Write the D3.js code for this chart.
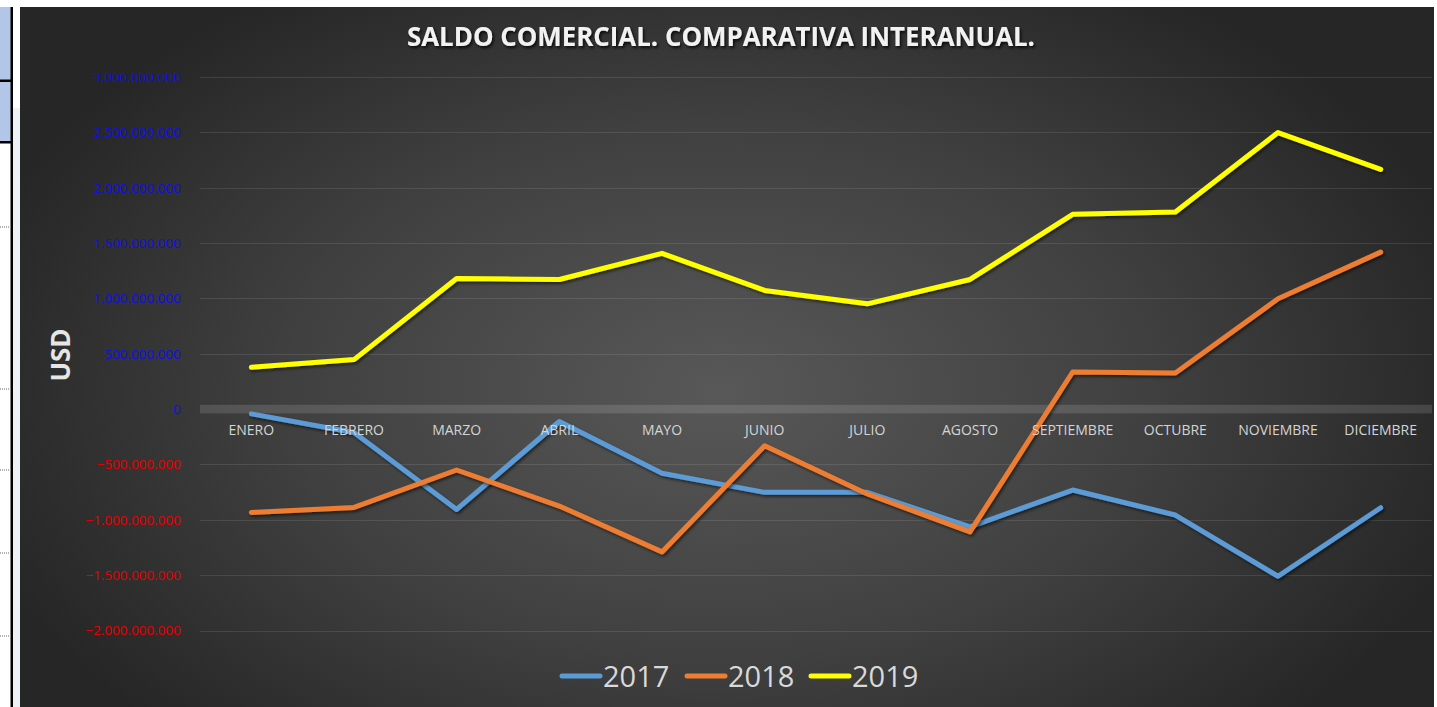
<!DOCTYPE html>
<html><head><meta charset="utf-8">
<script src="https://cdn.jsdelivr.net/npm/d3@7"></script>
<style>
html,body{margin:0;padding:0;background:#fff;}
svg{display:block;}
</style></head>
<body>
<svg id="chart" width="1437" height="707"></svg>
<script>
const months = ["ENERO","FEBRERO","MARZO","ABRIL","MAYO","JUNIO","JULIO","AGOSTO","SEPTIEMBRE","OCTUBRE","NOVIEMBRE","DICIEMBRE"];
const years = ["2017","2018","2019"];
const s2017 = [-43e6,-212e6,-906e6,-112e6,-580e6,-752e6,-752e6,-1063e6,-731e6,-957e6,-1510e6,-891e6];
const s2018 = [-933e6,-888e6,-550e6,-876e6,-1290e6,-332e6,-767e6,-1109e6,335e6,326e6,996e6,1418e6];
const s2019 = [377e6,447e6,1180e6,1171e6,1407e6,1072e6,951e6,1171e6,1760e6,1781e6,2498e6,2165e6];
const yTicks = [3e9,2.5e9,2e9,1.5e9,1e9,5e8,0,-5e8,-1e9,-1.5e9,-2e9];
const colors = ["#5b9bd5","#ed7d31","#ffff00"];
const seriesList = [s2017,s2018,s2019];

const svg = d3.select("#chart");
const defs = svg.append("defs");
const rg = defs.append("radialGradient").attr("id","bg")
  .attr("gradientUnits","userSpaceOnUse")
  .attr("cx",720).attr("cy",390).attr("r",780)
  .attr("gradientTransform","translate(720,390) scale(1,0.62) translate(-720,-390)");
rg.append("stop").attr("offset","0").attr("stop-color","#585858");
rg.append("stop").attr("offset","0.55").attr("stop-color","#404040");
rg.append("stop").attr("offset","1").attr("stop-color","#262626");

const sh = defs.append("filter").attr("id","shadow").attr("x","-10%").attr("y","-10%").attr("width","120%").attr("height","130%");
sh.append("feDropShadow").attr("dx",1.5).attr("dy",2).attr("stdDeviation",1.8).attr("flood-color","#000").attr("flood-opacity",0.55);
const tsh = defs.append("filter").attr("id","tshadow").attr("x","-5%").attr("y","-30%").attr("width","110%").attr("height","160%");
tsh.append("feDropShadow").attr("dx",1.5).attr("dy",2).attr("stdDeviation",1.5).attr("flood-color","#000").attr("flood-opacity",0.8);

// spreadsheet fragment on the left
const left = svg.append("g");
left.append("rect").attr("x",13).attr("y",108).attr("width",7).attr("height",599).attr("fill","#eef2f7");
left.append("rect").attr("x",0).attr("y",7).attr("width",11).attr("height",73).attr("fill","#b4c6e7");
left.append("rect").attr("x",0).attr("y",82).attr("width",11).attr("height",59).attr("fill","#b4c6e7");
left.append("rect").attr("x",0).attr("y",79.5).attr("width",12).attr("height",2.5).attr("fill","#000");
left.append("rect").attr("x",0).attr("y",141).attr("width",12).attr("height",2.5).attr("fill","#000");
left.append("rect").attr("x",10.5).attr("y",7).attr("width",2.5).attr("height",700).attr("fill","#000");
[227,389,470,553,636].forEach(yy=>{
  left.append("line").attr("x1",0).attr("x2",10).attr("y1",yy).attr("y2",yy)
    .attr("stroke","#666").attr("stroke-width",1).attr("stroke-dasharray","1,1");
});

// chart background
svg.append("rect").attr("x",20).attr("y",7).attr("width",1414).attr("height",700).attr("fill","url(#bg)");

const x = d3.scaleBand().domain(months).range([200,1432]);
const y = d3.scaleLinear().domain([-2e9,3e9]).range([630.5,77]);
const fmt = d3.formatLocale({decimal:",",thousands:".",grouping:[3],currency:["",""]}).format(",d");

// gridlines
svg.append("g").selectAll("line").data(yTicks.filter(d=>d!==0)).join("line")
  .attr("x1",200).attr("x2",1432)
  .attr("y1",d=>Math.round(y(d))+0.5).attr("y2",d=>Math.round(y(d))+0.5)
  .attr("stroke","#ffffff").attr("stroke-opacity",0.1).attr("stroke-width",1);

// zero band
svg.append("rect").attr("x",200).attr("width",1232).attr("y",y(0)-4.3).attr("height",8.6)
  .attr("fill","#ffffff").attr("fill-opacity",0.13);

// y axis
const yAxis = svg.append("g").attr("transform","translate(190,0)")
  .call(d3.axisLeft(y).tickValues(yTicks).tickFormat(fmt).tickSize(0).tickPadding(9));
yAxis.select(".domain").remove();
yAxis.selectAll("text")
  .attr("font-family","'Open Sans', sans-serif").attr("font-size",13.5)
  .attr("fill",d=>d<0?"#e60000":"#1010e0");

// lines
const line = d3.line().x((d,i)=>x(months[i])+x.bandwidth()/2).y(d=>y(d));
svg.append("g").selectAll("path").data(seriesList).join("path")
  .attr("d",line).attr("fill","none")
  .attr("stroke",(d,i)=>colors[i]).attr("stroke-width",5)
  .attr("stroke-linejoin","round").attr("stroke-linecap","round")
  .attr("filter","url(#shadow)");

// x axis labels
const xAxis = svg.append("g").attr("transform",`translate(0,${y(0)})`)
  .call(d3.axisBottom(x).tickSize(0).tickPadding(16));
xAxis.select(".domain").remove();
xAxis.selectAll("text")
  .attr("font-family","'Open Sans', sans-serif").attr("font-size",14)
  .attr("fill","#d4d4d4");

// title
svg.append("text").attr("x",721).attr("y",46).attr("text-anchor","middle")
  .attr("font-family","'Open Sans', sans-serif").attr("font-weight","bold").attr("font-size",27)
  .attr("fill","#f2f2f2").attr("filter","url(#tshadow)")
  .attr("textLength",628).attr("lengthAdjust","spacingAndGlyphs")
  .text("SALDO COMERCIAL. COMPARATIVA INTERANUAL.");

// y axis title
svg.append("text").attr("transform","translate(70,355) rotate(-90)").attr("text-anchor","middle")
  .attr("font-family","'Open Sans', sans-serif").attr("font-weight","bold").attr("font-size",26)
  .attr("fill","#e6e6e6").text("USD");

// legend
const legX = [562,687,811];
const leg = svg.append("g").selectAll("g").data(years).join("g")
  .attr("transform",(d,i)=>`translate(${legX[i]},676)`);
leg.append("line").attr("x1",0).attr("x2",38).attr("y1",0).attr("y2",0)
  .attr("stroke",(d,i)=>colors[i]).attr("stroke-width",5).attr("stroke-linecap","round");
leg.append("text").attr("x",41).attr("y",11)
  .attr("font-family","'Open Sans', sans-serif").attr("font-size",29)
  .attr("fill","#d9d9d9").text(d=>d);
</script>
</body></html>
